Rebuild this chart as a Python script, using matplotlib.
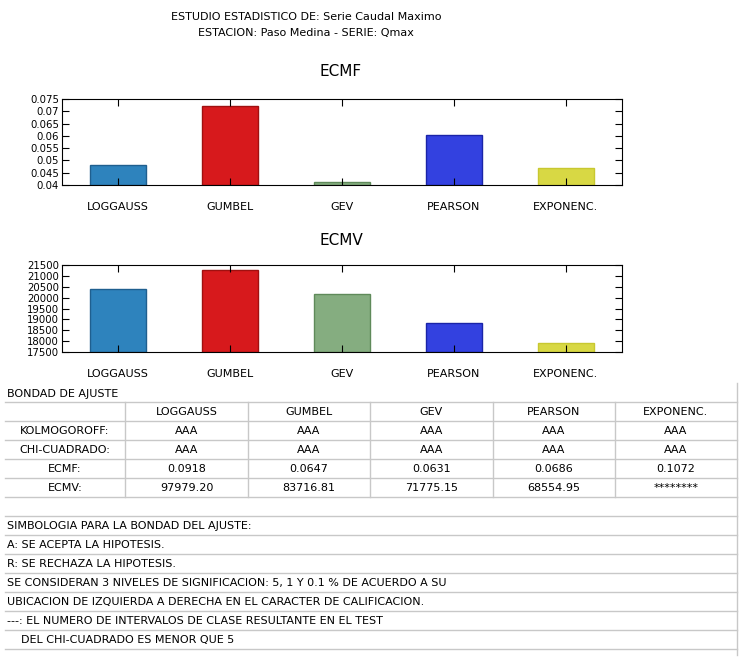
import matplotlib
matplotlib.use('Agg')
import matplotlib.pyplot as plt
from matplotlib.lines import Line2D

W, H = 742, 664

categories = ['LOGGAUSS', 'GUMBEL', 'GEV', 'PEARSON', 'EXPONENC.']
ecmf_bars = [0.0483, 0.0723, 0.0413, 0.0605, 0.0468]
ecmv_bars = [20400, 21250, 20180, 18820, 17920]
bar_colors = ['#2e83bd', '#d7191c', '#85ad80', '#3341e0', '#d8d844']
edge_colors = ['#1f5f8f', '#a01010', '#5f8a5a', '#1a24a8', '#c8c830']

ecmf_ticks = [0.04, 0.045, 0.05, 0.055, 0.06, 0.065, 0.07, 0.075]
ecmf_ticklabels = ['0.04', '0.045', '0.05', '0.055', '0.06', '0.065', '0.07', '0.075']
ecmv_ticks = [17500, 18000, 18500, 19000, 19500, 20000, 20500, 21000, 21500]

row_names = ['KOLMOGOROFF:', 'CHI-CUADRADO:', 'ECMF:', 'ECMV:']
kolmo = ['AAA', 'AAA', 'AAA', 'AAA', 'AAA']
chi = ['AAA', 'AAA', 'AAA', 'AAA', 'AAA']
ecmf_txt = ['0.0918', '0.0647', '0.0631', '0.0686', '0.1072']
ecmv_txt = ['97979.20', '83716.81', '71775.15', '68554.95', '********']
notes = ['SIMBOLOGIA PARA LA BONDAD DEL AJUSTE:',
         'A: SE ACEPTA LA HIPOTESIS.',
         'R: SE RECHAZA LA HIPOTESIS.',
         'SE CONSIDERAN 3 NIVELES DE SIGNIFICACION: 5, 1 Y 0.1 % DE ACUERDO A SU',
         'UBICACION DE IZQUIERDA A DERECHA EN EL CARACTER DE CALIFICACION.',
         '---: EL NUMERO DE INTERVALOS DE CLASE RESULTANTE EN EL TEST',
         '    DEL CHI-CUADRADO ES MENOR QUE 5']

fig = plt.figure(figsize=(W / 100, H / 100), dpi=100)
FS = 8
TFS = 7.3


def px(x, y):
    return x / W, 1 - y / H


def bar_axes(top, bottom, values, ticks, labels, ylim, title, title_y):
    ax = fig.add_axes([62 / W, 1 - bottom / H, (622 - 62) / W, (bottom - top) / H])
    xs = range(1, len(values) + 1)
    ax.bar(xs, [v - ylim[0] for v in values], bottom=ylim[0], width=0.5,
           color=bar_colors, edgecolor=edge_colors, linewidth=1)
    ax.set_xlim(0.5, 5.5)
    ax.set_ylim(*ylim)
    ax.set_xticks(list(xs))
    ax.set_xticklabels(categories, fontsize=FS)
    ax.set_yticks(ticks)
    ax.set_yticklabels(labels, fontsize=TFS)
    ax.tick_params(direction='in', top=True, right=True, length=5, pad=2)
    ax.tick_params(axis='x', pad=12)
    fig.text(*px(341, title_y), title, ha='center', va='center', fontsize=11)
    return ax


bar_axes(99, 185, ecmf_bars, ecmf_ticks, ecmf_ticklabels, (0.04, 0.075), 'ECMF', 72)
bar_axes(265, 352, ecmv_bars, ecmv_ticks, [str(t) for t in ecmv_ticks], (17500, 21500), 'ECMV', 240)

fig.text(*px(306, 17), 'ESTUDIO ESTADISTICO DE: Serie Caudal Maximo', ha='center', va='center', fontsize=FS)
fig.text(*px(306, 33), 'ESTACION: Paso Medina - SERIE: Qmax', ha='center', va='center', fontsize=FS)

# table
line_c = '#c8c8c8'
hlines = [402, 421, 440, 459, 478, 497, 516, 535, 554, 573, 592, 611, 630, 649]
for y in hlines:
    fig.add_artist(Line2D([5 / W, 737 / W], [1 - y / H] * 2, color=line_c, lw=1))
fig.add_artist(Line2D([737 / W] * 2, [1 - 383 / H, 1 - 655 / H], color=line_c, lw=1))
cols = [125, 248, 370, 493, 615]
for x in cols:
    fig.add_artist(Line2D([x / W] * 2, [1 - 402 / H, 1 - 497 / H], color=line_c, lw=1))

fig.text(*px(7, 394), 'BONDAD DE AJUSTE', ha='left', va='center', fontsize=FS)
centers = [(cols[i] + (cols[i + 1] if i + 1 < len(cols) else 737)) / 2 for i in range(len(cols))]
for c, name in zip(centers, categories):
    fig.text(*px(c, 412), name, ha='center', va='center', fontsize=FS)
for r, (name, vals) in enumerate(zip(row_names, [kolmo, chi, ecmf_txt, ecmv_txt])):
    y = 431 + 19 * r
    fig.text(*px(65, y), name, ha='center', va='center', fontsize=FS)
    for c, v in zip(centers, vals):
        fig.text(*px(c, y), v, ha='center', va='center', fontsize=FS)
for i, t in enumerate(notes):
    fig.text(*px(7, 526 + 19 * i), t, ha='left', va='center', fontsize=FS)

fig.savefig('out.png', dpi=100)
